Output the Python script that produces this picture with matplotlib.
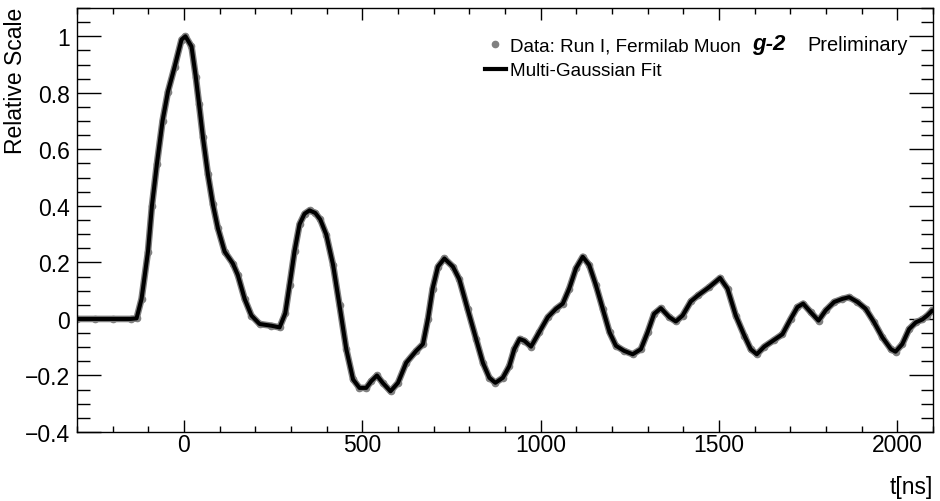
import matplotlib
matplotlib.use("Agg")
import matplotlib.pyplot as plt
from matplotlib.lines import Line2D
from matplotlib.ticker import MultipleLocator, FuncFormatter

plt.rcParams['font.family'] = ['Liberation Sans', 'DejaVu Sans']

# time in ns and relative scale
t_ns = [-300, -250, -200, -150, -133, -119, -101, -90, -76, -60, -45, -26, -7, 4,
        21, 33, 42, 53, 67, 81, 95, 114, 137, 151, 170, 189, 212, 245, 268, 284,
        296, 310, 324, 338, 352, 368, 382, 399, 418, 436, 455, 474, 492, 511, 525,
        541, 557, 579, 600, 623, 651, 670, 684, 697, 712, 730, 754, 772, 795, 819,
        838, 856, 873, 894, 912, 926, 941, 954, 973, 996, 1020, 1043, 1062, 1080,
        1099, 1118, 1136, 1155, 1174, 1193, 1211, 1234, 1258, 1281, 1300, 1318,
        1337, 1361, 1379, 1398, 1421, 1441, 1473, 1503, 1524, 1547, 1571, 1589,
        1606, 1627, 1655, 1678, 1701, 1720, 1736, 1757, 1779, 1799, 1823, 1846,
        1865, 1888, 1911, 1935, 1958, 1982, 1995, 2014, 2033, 2052, 2070, 2084, 2098]
data_scale = [0.0, 0.0, 0.0, 0.0, 0.002, 0.071, 0.238, 0.399, 0.548, 0.702, 0.804, 0.893, 0.988, 1.0,
              0.964, 0.857, 0.762, 0.643, 0.512, 0.405, 0.321, 0.238, 0.196, 0.155, 0.071, 0.012, -0.018, -0.024, -0.030, 0.02,
              0.12, 0.24, 0.335, 0.372, 0.384, 0.375, 0.352, 0.298, 0.191, 0.048, -0.107, -0.214, -0.244, -0.244, -0.220,
              -0.200, -0.226, -0.256, -0.226, -0.155, -0.113, -0.089, 0.0, 0.107, 0.185, 0.214, 0.185, 0.140, 0.036, -0.071,
              -0.155, -0.208, -0.226, -0.208, -0.167, -0.107, -0.071, -0.077, -0.098, -0.047, 0.006, 0.036, 0.054, 0.107,
              0.179, 0.220, 0.191, 0.119, 0.036, -0.047, -0.095, -0.113, -0.125, -0.107, -0.047, 0.018,
              0.038, 0.006, -0.009, 0.012, 0.062, 0.083, 0.113, 0.145, 0.107, 0.012, -0.059, -0.107,
              -0.125, -0.098, -0.074, -0.054, 0.0, 0.042, 0.054, 0.024, -0.006, 0.03, 0.06, 0.071,
              0.077, 0.06, 0.036, -0.012, -0.065, -0.107, -0.116, -0.089, -0.036, -0.012, -0.002, 0.012, 0.030]
fit_scale = list(data_scale)

legend_labels = ['Data: Run I, Fermilab Muon', 'Multi-Gaussian Fit']

W, H = 940, 502
fig = plt.figure(figsize=(W / 100, H / 100), dpi=100)
ax = fig.add_axes([77 / W, 1 - 433 / H, (933 - 77) / W, (433 - 9) / H])

gray = '#808080'
ax.plot(t_ns, data_scale, color=gray, lw=4.8, marker='o', ms=4.5, zorder=2,
        solid_capstyle='round', solid_joinstyle='round')
ax.plot(t_ns, fit_scale, color='black', lw=2.9, zorder=3,
        solid_capstyle='round', solid_joinstyle='round')

ax.set_xlim(-300, 2100)
ax.set_ylim(-0.4, 1.1)
ax.xaxis.set_major_locator(MultipleLocator(500))
ax.xaxis.set_minor_locator(MultipleLocator(100))
ax.yaxis.set_major_locator(MultipleLocator(0.2))
ax.yaxis.set_minor_locator(MultipleLocator(0.05))
ax.yaxis.set_major_formatter(FuncFormatter(lambda v, p: ('%g' % round(v, 2)).replace('-', '\u2212')))
ax.xaxis.set_major_formatter(FuncFormatter(lambda v, p: ('%g' % v).replace('-', '\u2212')))

ax.tick_params(which='both', direction='in', top=True, right=True, width=1.0, labelsize=16.5)
ax.tick_params(axis='x', which='major', length=8.6, pad=1)
ax.tick_params(axis='x', which='minor', length=4.3)
ax.tick_params(axis='y', which='major', length=17, pad=5)
ax.tick_params(axis='y', which='minor', length=9)
for s in ax.spines.values():
    s.set_linewidth(1.0)

LFS = 13.6
h1 = Line2D([], [], color=gray, marker='o', ls='none', ms=4.5)
h2 = Line2D([], [], color='black', lw=3)
leg = ax.legend([h1, h2], legend_labels, loc='upper left',
                bbox_to_anchor=(485 / W, 1 - 38 / H), bbox_transform=fig.transFigure,
                frameon=False, fontsize=LFS, handlelength=1.1, handletextpad=0.2,
                borderpad=0, borderaxespad=0, labelspacing=0.42)

fig.canvas.draw()
t0 = leg.get_texts()[0]
bb = t0.get_window_extent()
fig.text(752 / W, bb.y0 / H, 'g-2', fontsize=16, fontweight='bold',
         fontstyle='italic', ha='left', va='bottom')
fig.text(807 / W, bb.y0 / H, 'Preliminary', fontsize=14.4, ha='left', va='bottom')

fig.text(16 / W, 1 - 8 / H, 'Relative Scale', rotation=90, ha='center', va='top', fontsize=16.5)
fig.text(933 / W, 1 - 488 / H, 't[ns]', ha='right', va='center', fontsize=16.5)

fig.savefig('out.png', dpi=100)
